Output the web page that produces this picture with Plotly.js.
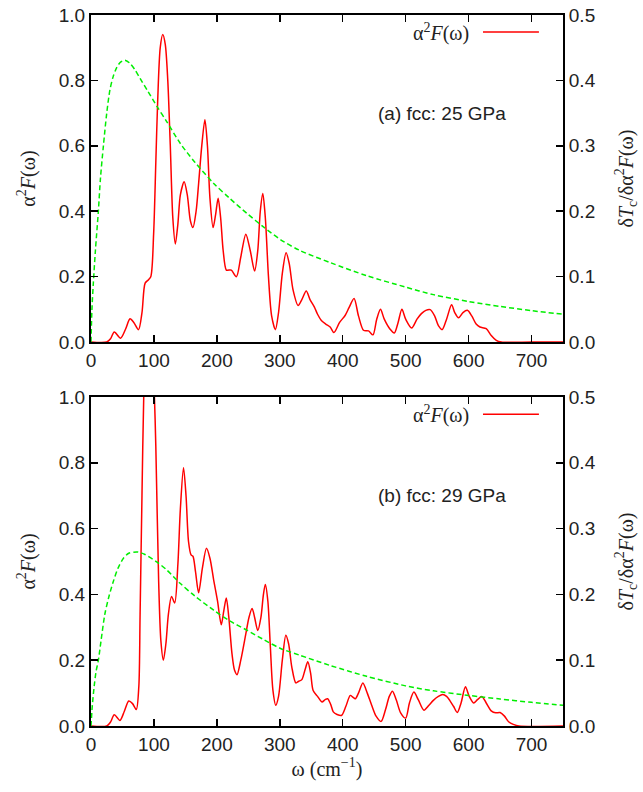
<!DOCTYPE html>
<html>
<head>
<meta charset="utf-8">
<script src="https://cdn.plot.ly/plotly-3.0.1.min.js"></script>
<style>html,body{margin:0;padding:0;background:#fff;}#chart{width:643px;height:792px;}</style>
</head>
<body>
<div id="chart"></div>
<script>
// ---- Panel (a): fcc 25 GPa ----
const omegaA = [0,25,31,37,47,55,62,68,75.5,81,86,91,95,99.5,103,106,110,114,118,122,126,130,134,138,142,148,153,158,162,167,171,176,181,185,189,194,198,202,206,210,215,219,223,231,238,246,253,260,265,269,273,277,282,287,293,298,304,310,315,321,329,335,342,348,355,360,366,373,380,386,395,404,410,418,425,433,441,448,454,460,466,475,482,488,494,500,509.5,518,525,532,539,546,552,558,565,573,578,584,591,598,605,612,618,628,636,644,652,700,750];
const a2fA = [0,0,0.01,0.031,0.012,0.04,0.071,0.06,0.038,0.09,0.18,0.19,0.2,0.33,0.55,0.74,0.9,0.94,0.91,0.8,0.6,0.38,0.3,0.36,0.45,0.49,0.45,0.37,0.35,0.4,0.485,0.6,0.68,0.6,0.44,0.35,0.39,0.44,0.38,0.28,0.22,0.22,0.22,0.2,0.26,0.33,0.28,0.217,0.28,0.4,0.454,0.38,0.2,0.08,0.038,0.09,0.21,0.273,0.24,0.16,0.112,0.13,0.156,0.13,0.107,0.085,0.066,0.055,0.046,0.029,0.06,0.082,0.105,0.133,0.08,0.036,0.034,0.022,0.07,0.1,0.07,0.04,0.028,0.06,0.1,0.07,0.043,0.07,0.087,0.097,0.099,0.08,0.05,0.038,0.07,0.114,0.09,0.074,0.09,0.097,0.08,0.055,0.046,0.041,0.02,0.005,0,0,0];
const omegaTcA = [0,1.5,3.7,7,11.7,15,19.7,25,30,35,41,47,54,62,70,78,90,105,120,142,165,195,220,248,274,302,332,380,438,500,544,600,650,700,750];
const dTcA = [0,0.05,0.09,0.14,0.2,0.25,0.3,0.35,0.385,0.405,0.42,0.428,0.431,0.426,0.416,0.403,0.384,0.36,0.3375,0.3035,0.275,0.2425,0.22,0.1965,0.176,0.156,0.14,0.1215,0.1015,0.084,0.0725,0.062,0.0545,0.048,0.0425];

// ---- Panel (b): fcc 29 GPa ----
const omegaB = [0,25,31,37,46,53,60,66,72,76,78,81,84,88,92,96,100,103,107.5,111,115,119,123,128,133,138,142,147,151,155,159,162,166,171,177,183.5,189,195,201,207,211,215,219,224,228,232,238,246,251,256,260,265,270,274,277,281,285,289,293.6,298,304,309.6,314,319,325.5,330,335,340,344.5,349,353,360,367,372,376,381,385,391,398,405,412,416,420,425,432,439,446,453,461,468,474,479,485,492,500,506,513,520,529,537,544,552,559,565,570,576,582,588,595,601,608,614,621,628,636.5,643,650,657,664,671,680,750];
const a2fB = [0,0,0.012,0.034,0.017,0.045,0.076,0.068,0.05,0.12,0.34,0.7,1.02,1.22,1.28,1.22,1.05,0.85,0.44,0.26,0.2,0.25,0.34,0.394,0.374,0.49,0.66,0.785,0.7,0.56,0.52,0.516,0.47,0.405,0.48,0.54,0.51,0.443,0.38,0.308,0.35,0.389,0.33,0.22,0.17,0.156,0.2,0.28,0.33,0.357,0.33,0.29,0.33,0.4,0.43,0.38,0.24,0.11,0.063,0.09,0.2,0.276,0.25,0.18,0.131,0.136,0.141,0.17,0.195,0.16,0.108,0.09,0.073,0.08,0.083,0.065,0.043,0.035,0.032,0.06,0.093,0.088,0.083,0.1,0.131,0.1,0.063,0.03,0.014,0.05,0.09,0.106,0.08,0.04,0.024,0.07,0.103,0.08,0.048,0.063,0.078,0.09,0.096,0.09,0.078,0.06,0.041,0.07,0.119,0.09,0.07,0.08,0.09,0.07,0.045,0.04,0.041,0.03,0.012,0.005,0,0];
const omegaTcB = [0,2,5,8,11.7,16,22,28,35.6,43,51.6,60,74,85,105,120,142,165,195,220,248,275,302,332,380,438,500,544,600,650,700,750];
const dTcB = [0,0.03,0.06,0.0825,0.1,0.13,0.17,0.195,0.22,0.24,0.255,0.2625,0.2645,0.261,0.249,0.2375,0.2165,0.1975,0.176,0.16,0.1455,0.131,0.1175,0.1075,0.092,0.0755,0.061,0.0535,0.0465,0.041,0.036,0.0315];

const xTicks = [0,100,200,300,400,500,600,700];
const leftTicks = [0,0.2,0.4,0.6,0.8,1.0];
const rightTicks = [0,0.1,0.2,0.3,0.4,0.5];
const panelLabels = ['(a) fcc: 25 GPa','(b) fcc: 29 GPa'];
const seriesName = 'α<sup>2</sup><i>F</i>(ω)';
const rightTitle = 'δ<i>T</i><sub>c</sub>/δα<sup>2</sup><i>F</i>(ω)';
const xTitle = 'ω (cm<sup>−1</sup>)';

const SANS = 'Liberation Sans, Arial, Helvetica, sans-serif';
const SERIF = 'Liberation Serif, Times New Roman, serif';
const TXT = '#222';
const tickFont = {family: SANS, size: 19, color: TXT};
const serifFont = {family: SERIF, size: 20, color: TXT};

const redLine = {color: '#ff0000', width: 1.5, shape: 'spline', smoothing: 0.8};
const greenLine = {color: '#00ee00', width: 1.5, dash: '5px,3px', shape: 'spline', smoothing: 0.8};

const traces = [
  {x: omegaA, y: a2fA, xaxis: 'x', yaxis: 'y', mode: 'lines', line: redLine, showlegend: false},
  {x: omegaTcA, y: dTcA, xaxis: 'x', yaxis: 'y2', mode: 'lines', line: greenLine, showlegend: false},
  {x: omegaB, y: a2fB, xaxis: 'x2', yaxis: 'y3', mode: 'lines', line: redLine, showlegend: false},
  {x: omegaTcB, y: dTcB, xaxis: 'x2', yaxis: 'y4', mode: 'lines', line: greenLine, showlegend: false}
];

function xAxis(anchor, withTitle) {
  const ax = {
    anchor: anchor, domain: [0, 1], range: [0, 750], tickvals: xTicks,
    ticks: 'inside', ticklen: 7, tickwidth: 1.5, tickcolor: '#000',
    showline: true, linecolor: '#000', linewidth: 2, mirror: 'ticks',
    showgrid: false, zeroline: false, tickfont: tickFont
  };
  if (withTitle) ax.title = {text: xTitle, font: serifFont, standoff: 8};
  return ax;
}
function yLeft(anchor, domain) {
  return {
    anchor: anchor, domain: domain, range: [0, 1], tickvals: leftTicks, tickformat: '.1f',
    ticks: 'inside', ticklen: 7, tickwidth: 1.5, tickcolor: '#000',
    showline: true, linecolor: '#000', linewidth: 2, showgrid: false, zeroline: false,
    tickfont: tickFont, title: {text: seriesName, font: serifFont, standoff: 18}
  };
}
function yRight(anchor, overlay) {
  return {
    anchor: anchor, overlaying: overlay, side: 'right', range: [0, 0.5], tickvals: rightTicks, tickformat: '.1f',
    ticks: 'inside', ticklen: 7, tickwidth: 1.5, tickcolor: '#000',
    showline: true, linecolor: '#000', linewidth: 2, showgrid: false, zeroline: false,
    tickfont: tickFont, title: {text: rightTitle, font: serifFont, standoff: 24}
  };
}

const topDom = [0.54, 1];
const botDom = [0, 0.4627];

const annotations = [];
const shapes = [];
[['x','y'],['x2','y3']].forEach((p, i) => {
  annotations.push({
    xref: p[0] + ' domain', yref: p[1] + ' domain', x: 0.743, y: 0.70,
    xanchor: 'center', yanchor: 'middle', showarrow: false,
    text: panelLabels[i], font: {family: SANS, size: 19, color: TXT}
  });
  annotations.push({
    xref: p[0] + ' domain', yref: p[1] + ' domain', x: 0.805, y: 0.948,
    xanchor: 'right', yanchor: 'middle', showarrow: false,
    text: seriesName, font: serifFont
  });
  shapes.push({
    type: 'line', xref: p[0] + ' domain', yref: p[1] + ' domain',
    x0: 0.8305, x1: 0.949, y0: 0.948, y1: 0.948,
    line: {color: '#ff0000', width: 1.5}
  });
});

const layout = {
  width: 643, height: 792,
  margin: {l: 91, r: 80, t: 15, b: 66},
  paper_bgcolor: '#fff', plot_bgcolor: '#fff',
  showlegend: false,
  xaxis: xAxis('y', false),
  yaxis: yLeft('x', topDom),
  yaxis2: yRight('x', 'y'),
  xaxis2: xAxis('y3', true),
  yaxis3: yLeft('x2', botDom),
  yaxis4: yRight('x2', 'y3'),
  annotations: annotations,
  shapes: shapes
};

Plotly.newPlot('chart', traces, layout, {staticPlot: true, displayModeBar: false});
</script>
</body>
</html>
